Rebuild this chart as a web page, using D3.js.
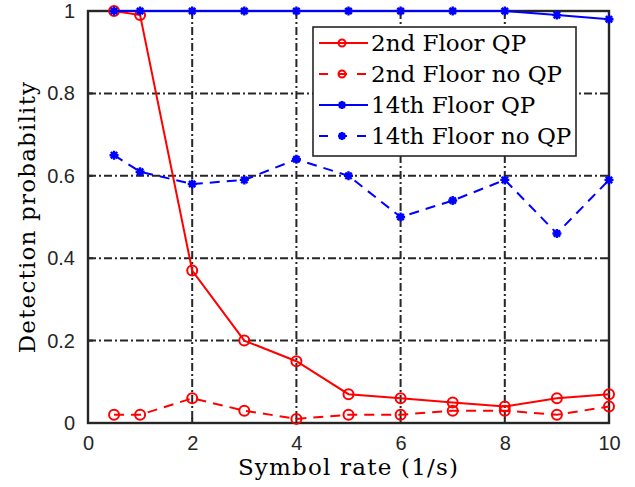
<!DOCTYPE html>
<html>
<head>
<meta charset="utf-8">
<script src="https://cdn.jsdelivr.net/npm/d3@7"></script>
<style>
  body { margin: 0; background: #fff; }
  .tick text { font-family: "Liberation Sans", Arial, sans-serif; font-size: 20px; fill: #262626; }
  .lbl { font-family: "DejaVu Serif", serif; font-size: 23px; fill: #000; }
  .axlbl { letter-spacing: 1.2px; }
</style>
</head>
<body>
<script>
// chart values
var rates = [0.5, 1, 2, 3, 4, 5, 6, 7, 8, 9, 10];
var floor2QP   = [1, 0.99, 0.37, 0.20, 0.15, 0.07, 0.06, 0.05, 0.04, 0.06, 0.07];
var floor2noQP = [0.02, 0.02, 0.06, 0.03, 0.01, 0.02, 0.02, 0.03, 0.03, 0.02, 0.04];
var floor14QP   = [1, 1, 1, 1, 1, 1, 1, 1, 1, 0.99, 0.98];
var floor14noQP = [0.65, 0.61, 0.58, 0.59, 0.64, 0.60, 0.50, 0.54, 0.59, 0.46, 0.59];
var xTicks = [0, 2, 4, 6, 8, 10];
var yTicks = [0, 0.2, 0.4, 0.6, 0.8, 1];

var series = [
  {name: "2nd Floor QP", values: floor2QP, color: "#ff0000", dash: null, marker: "circle"},
  {name: "2nd Floor no QP", values: floor2noQP, color: "#ff0000", dash: "10,7", marker: "circle"},
  {name: "14th Floor QP", values: floor14QP, color: "#0000ff", dash: null, marker: "star"},
  {name: "14th Floor no QP", values: floor14noQP, color: "#0000ff", dash: "10,7", marker: "star"}
];

var margin = {top: 11, right: 26, bottom: 64, left: 88},
    totalW = 635, totalH = 487,
    width = totalW - margin.left - margin.right,
    height = totalH - margin.top - margin.bottom;

var svg = d3.select("body").append("svg")
    .attr("width", totalW)
    .attr("height", totalH);

var g = svg.append("g")
    .attr("transform", "translate(" + margin.left + "," + margin.top + ")");

var x = d3.scaleLinear().domain([0, 10]).range([0, width]);
var y = d3.scaleLinear().domain([0, 1]).range([height, 0]);

// grid
var gridColor = "#262626";
g.append("g").selectAll("line")
    .data(xTicks.filter(function(d) { return d > 0 && d < 10; }))
    .enter().append("line")
    .attr("x1", function(d) { return x(d); })
    .attr("x2", function(d) { return x(d); })
    .attr("y1", 0).attr("y2", height)
    .attr("stroke", gridColor).attr("stroke-width", 2)
    .attr("stroke-dasharray", "8,3,2,3");
g.append("g").selectAll("line")
    .data(yTicks.filter(function(d) { return d > 0 && d < 1; }))
    .enter().append("line")
    .attr("y1", function(d) { return y(d); })
    .attr("y2", function(d) { return y(d); })
    .attr("x1", 0).attr("x2", width)
    .attr("stroke", gridColor).attr("stroke-width", 2)
    .attr("stroke-dasharray", "8,3,2,3");

// axes
var xAxis = g.append("g")
    .attr("transform", "translate(0," + height + ")")
    .call(d3.axisBottom(x).tickValues(xTicks).tickSize(0).tickPadding(13).tickFormat(d3.format("d")));
var yAxis = g.append("g")
    .call(d3.axisLeft(y).tickValues(yTicks).tickSize(0).tickPadding(13).tickFormat(function(d) { return d === 0 || d === 1 ? d3.format("d")(d) : d3.format(".1f")(d); }));
xAxis.select(".domain").remove();
yAxis.select(".domain").remove();

// inner ticks
g.append("g").selectAll("line").data(xTicks).enter().append("line")
    .attr("x1", function(d) { return x(d); }).attr("x2", function(d) { return x(d); })
    .attr("y1", height).attr("y2", height - 5)
    .attr("stroke", gridColor).attr("stroke-width", 2);
g.append("g").selectAll("line").data(yTicks).enter().append("line")
    .attr("y1", function(d) { return y(d); }).attr("y2", function(d) { return y(d); })
    .attr("x1", 0).attr("x2", 5)
    .attr("stroke", gridColor).attr("stroke-width", 2);

// box
g.append("rect")
    .attr("width", width).attr("height", height)
    .attr("fill", "none").attr("stroke", gridColor).attr("stroke-width", 2.4);

// markers
function starPath(r) {
  var d = r * 0.7071;
  return "M" + (-r) + ",0L" + r + ",0M0," + (-r) + "L0," + r +
         "M" + (-d) + "," + (-d) + "L" + d + "," + d +
         "M" + (-d) + "," + d + "L" + d + "," + (-d);
}
function drawMarker(sel, s, cx, cy, r) {
  if (s.marker === "circle") {
    sel.append("circle").attr("cx", cx).attr("cy", cy).attr("r", r)
      .attr("fill", "none").attr("stroke", s.color).attr("stroke-width", 2);
  } else {
    sel.append("path").attr("d", starPath(r))
      .attr("transform", "translate(" + cx + "," + cy + ")")
      .attr("fill", "none").attr("stroke", s.color).attr("stroke-width", 2.4);
  }
}

var line = d3.line()
    .x(function(d, i) { return x(rates[i]); })
    .y(function(d) { return y(d); });

series.forEach(function(s) {
  var sg = g.append("g");
  sg.append("path")
    .datum(s.values)
    .attr("d", line)
    .attr("fill", "none")
    .attr("stroke", s.color)
    .attr("stroke-width", 2)
    .attr("stroke-dasharray", s.dash);
  s.values.forEach(function(v, i) {
    drawMarker(sg, s, x(rates[i]), y(v), s.marker === "circle" ? 5 : 4.5);
  });
});

// labels
svg.append("text").attr("class", "lbl axlbl")
    .attr("x", margin.left + width / 2).attr("y", 475)
    .attr("text-anchor", "middle")
    .text("Symbol rate (1/s)");
svg.append("text").attr("class", "lbl axlbl")
    .attr("transform", "translate(35," + (margin.top + height / 2) + ") rotate(-90)")
    .attr("text-anchor", "middle")
    .text("Detection probability");

// legend
var lg = svg.append("g").attr("transform", "translate(313,27)");
lg.append("rect").attr("width", 263).attr("height", 129)
    .attr("fill", "#fff").attr("stroke", gridColor).attr("stroke-width", 1.6);
series.forEach(function(s, i) {
  var cy = 16 + i * 31;
  lg.append("line")
    .attr("x1", 6).attr("x2", 55).attr("y1", cy).attr("y2", cy)
    .attr("stroke", s.color).attr("stroke-width", 2)
    .attr("stroke-dasharray", s.dash ? "9,10" : null);
  drawMarker(lg, s, 29, cy, s.marker === "circle" ? 3.5 : 4);
  lg.append("text").attr("class", "lbl")
    .attr("x", 58).attr("y", cy + 8)
    .text(s.name);
});
</script>
</body>
</html>
